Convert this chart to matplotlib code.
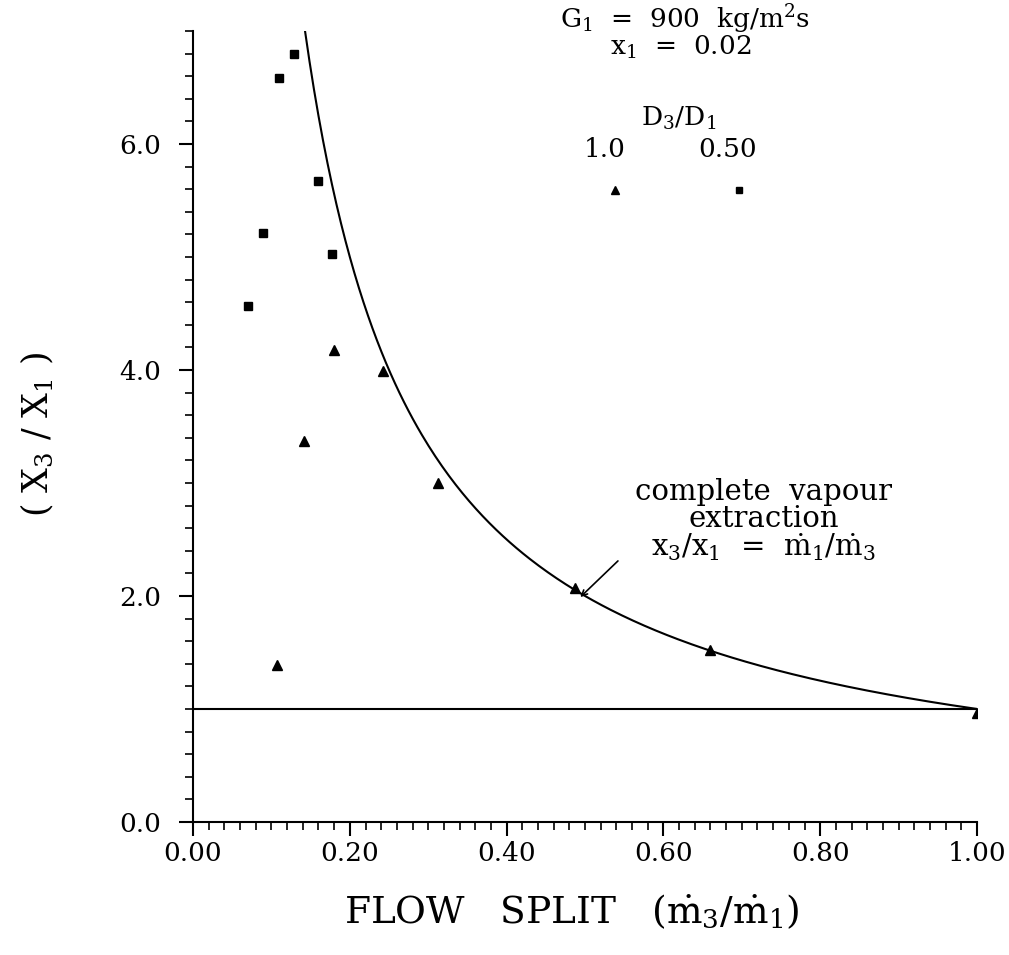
import matplotlib
matplotlib.use('Agg')
import matplotlib.pyplot as plt
import numpy as np
from matplotlib.ticker import MultipleLocator, FormatStrFormatter

plt.rcParams['font.family'] = 'DejaVu Serif'
plt.rcParams['mathtext.fontset'] = 'dejavuserif'

# D3/D1 = 0.50 (squares)
sq_x = [0.070, 0.089, 0.110, 0.129, 0.160, 0.177]
sq_y = [4.57, 5.21, 6.58, 6.80, 5.67, 5.03]

# D3/D1 = 1.0 (triangles)
tri_x = [0.107, 0.142, 0.180, 0.242, 0.313, 0.487, 0.659, 1.000]
tri_y = [1.39, 3.37, 4.18, 3.99, 3.00, 2.07, 1.52, 0.96]

# complete vapour extraction: x3/x1 = m1/m3
split = np.linspace(1 / 7.0, 1.0, 300)
ratio = 1.0 / split

fig = plt.figure(figsize=(10.09, 9.55), dpi=100)
ax = fig.add_axes([0.1913, 0.1393, 0.777, 0.8283])

ax.plot(split, ratio, color='black', lw=1.5)
ax.plot([0, 1.0], [1.0, 1.0], color='black', lw=1.5)
ax.plot(sq_x, sq_y, 's', color='black', ms=6, ls='none')
ax.plot(tri_x, tri_y, '^', color='black', ms=6.5, ls='none')

# legend block
ax.plot([0.538], [5.59], '^', color='black', ms=5.5, clip_on=False)
ax.plot([0.696], [5.59], 's', color='black', ms=5, clip_on=False)
ax.text(0.628, 7.10, r'G$_\mathrm{1}$  =  900  kg/m$^\mathrm{2}$s', ha='center', va='center', fontsize=19)
ax.text(0.622, 6.85, r'x$_\mathrm{1}$  =  0.02', ha='center', va='center', fontsize=19)
ax.text(0.62, 6.23, r'D$_\mathrm{3}$/D$_\mathrm{1}$', ha='center', va='center', fontsize=19)
ax.text(0.525, 5.95, '1.0', ha='center', va='center', fontsize=19)
ax.text(0.682, 5.95, '0.50', ha='center', va='center', fontsize=19)

ax.text(0.728, 2.67, 'complete  vapour\nextraction\n'
        + r'x$_\mathrm{3}$/x$_\mathrm{1}$  =  $\dot{\mathrm{m}}_\mathrm{1}/\dot{\mathrm{m}}_\mathrm{3}$',
        ha='center', va='center', fontsize=21, linespacing=0.95)
ax.annotate('', xy=(0.494, 1.99), xytext=(0.542, 2.31),
            arrowprops=dict(arrowstyle='->', color='black', lw=1.2,
                            shrinkA=0, shrinkB=0))

ax.set_xlim(0, 1.0)
ax.set_ylim(0, 7.0)
ax.xaxis.set_major_locator(MultipleLocator(0.2))
ax.xaxis.set_minor_locator(MultipleLocator(0.02))
ax.yaxis.set_major_locator(MultipleLocator(2.0))
ax.yaxis.set_minor_locator(MultipleLocator(0.2))
ax.xaxis.set_major_formatter(FormatStrFormatter('%.2f'))
ax.yaxis.set_major_formatter(FormatStrFormatter('%.1f'))

for s in ['top', 'right']:
    ax.spines[s].set_visible(False)
for s in ['left', 'bottom']:
    ax.spines[s].set_linewidth(1.5)

ax.tick_params(which='major', direction='out', length=10, width=1.5, labelsize=19)
ax.tick_params(which='minor', direction='out', length=6, width=1.2)
ax.tick_params(axis='y', which='major', pad=13)
ax.tick_params(axis='x', which='major', pad=4)

ax.set_xlabel(r'FLOW   SPLIT   $(\dot{\mathrm{m}}_\mathrm{3}/\dot{\mathrm{m}}_\mathrm{1})$', fontsize=27)
ax.xaxis.set_label_coords(0.483, -0.09)
ax.set_ylabel(r'( X$_\mathrm{3}$ / X$_\mathrm{1}$ )', fontsize=25)
ax.yaxis.set_label_coords(-0.175, 0.49)

plt.savefig('out.png', dpi=100)
